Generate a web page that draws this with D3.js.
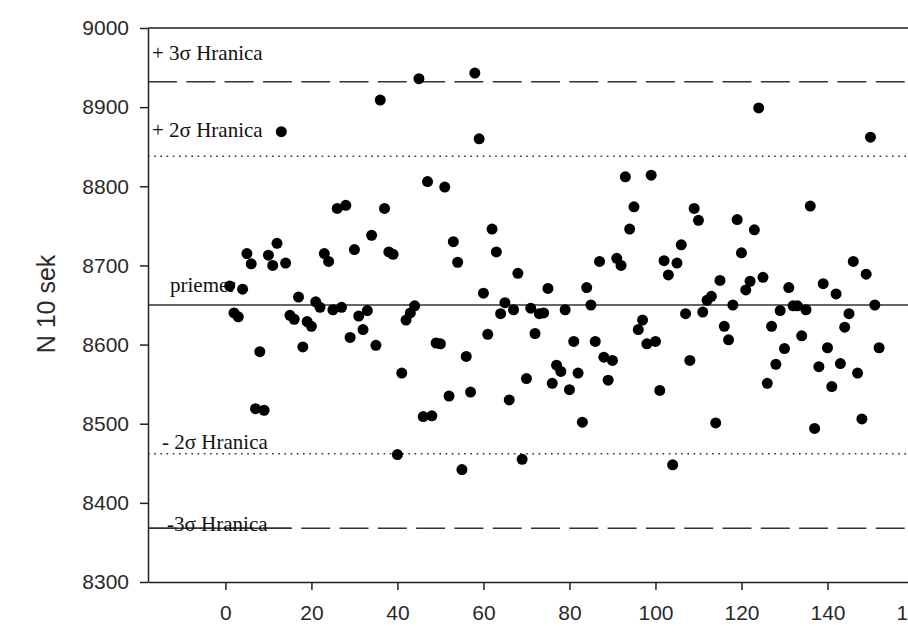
<!DOCTYPE html>
<html>
<head>
<meta charset="utf-8">
<script src="https://cdn.jsdelivr.net/npm/d3@7/dist/d3.min.js"></script>
<style>
  html, body { margin: 0; padding: 0; background: #fff; }
  svg { display: block; overflow: hidden; }
</style>
</head>
<body>
<svg id="chart" width="908" height="633"></svg>
<script>
// ---- data ----
const values = [
  8674, 8640, 8635, 8670, 8715, 8702, 8519, 8591, 8517, 8713,
  8700, 8728, 8869, 8703, 8637, 8632, 8660, 8597, 8629, 8623,
  8654, 8647, 8715, 8705, 8644, 8772, 8647, 8776, 8609, 8720,
  8636, 8619, 8643, 8738, 8599, 8909, 8772, 8717, 8714, 8461,
  8564, 8631, 8640, 8649, 8936, 8509, 8806, 8510, 8602, 8601,
  8799, 8535, 8730, 8704, 8442, 8585, 8540, 8943, 8860, 8665,
  8613, 8746, 8717, 8639, 8653, 8530, 8644, 8690, 8455, 8557,
  8646, 8614, 8639, 8640, 8671, 8551, 8574, 8566, 8644, 8543,
  8604, 8564, 8502, 8672, 8650, 8604, 8705, 8584, 8555, 8580,
  8709, 8700, 8812, 8746, 8774, 8619, 8631, 8601, 8814, 8604,
  8542, 8706, 8688, 8448, 8703, 8726, 8639, 8580, 8772, 8757,
  8641, 8656, 8661, 8501, 8681, 8623, 8606, 8650, 8758, 8716,
  8669, 8680, 8745, 8899, 8685, 8551, 8623, 8575, 8643, 8595,
  8672, 8649, 8649, 8611, 8644, 8775, 8494, 8572, 8677, 8596,
  8547, 8664, 8576, 8622, 8639, 8705, 8564, 8506, 8689, 8862,
  8650, 8596
];
const samples = values.map((v, i) => i + 1);   // sample number 1..n

const xTicks = [0, 20, 40, 60, 80, 100, 120, 140, 160];
const yTicks = [8300, 8400, 8500, 8600, 8700, 8800, 8900, 9000];

const limitNames  = ["+ 3σ Hranica", "+ 2σ Hranica", "priemer", "- 2σ Hranica", "-3σ Hranica"];
const limitValues = [8932, 8838, 8650, 8462, 8368];
const limitStyles = ["dash", "dot", "solid", "dot", "dash"];
const yTitle = "N 10 sek";

// ---- layout ----
const svg = d3.select("#chart");
const pLeft = 148, pTop = 28, pBottom = 582, pRight = 935;
const x = d3.scaleLinear().domain([-18, 165]).range([pLeft, pRight]);
const y = d3.scaleLinear().domain([8300, 9000]).range([pBottom, pTop]);
const ink = "#222";

// limit lines
const dashes = { dash: "29,9.3", dot: "1.6,4.6", solid: null };
const labelPos = [
  { dx: 4,  baseOff: -22 },
  { dx: 4,  baseOff: -19 },
  { dx: 22, baseOff: -13 },
  { dx: 14, baseOff: -5 },
  { dx: 19, baseOff: 3 }
];

const gLines = svg.append("g");
limitValues.forEach((v, i) => {
  gLines.append("line")
    .attr("x1", pLeft).attr("x2", 908)
    .attr("y1", y(v)).attr("y2", y(v))
    .attr("stroke", "#333")
    .attr("stroke-width", limitStyles[i] === "dot" ? 1.6 : 1.5)
    .attr("stroke-dasharray", dashes[limitStyles[i]]);
});
// solid stretch of the -3σ line underneath its label
gLines.append("line")
  .attr("x1", pLeft).attr("x2", pLeft + 143)
  .attr("y1", y(limitValues[4])).attr("y2", y(limitValues[4]))
  .attr("stroke", "#333").attr("stroke-width", 1.5);

// labels
const gLab = svg.append("g")
  .attr("font-family", "'Liberation Serif', 'Times New Roman', serif")
  .attr("font-size", 21)
  .attr("fill", "#111");
limitNames.forEach((t, i) => {
  gLab.append("text")
    .attr("x", pLeft + labelPos[i].dx)
    .attr("y", y(limitValues[i]) + labelPos[i].baseOff)
    .text(t);
});

// frame top line
svg.append("line")
  .attr("x1", pLeft).attr("x2", 908).attr("y1", pTop).attr("y2", pTop)
  .attr("stroke", ink).attr("stroke-width", 1.5);

// axes
const yAxis = svg.append("g")
  .attr("transform", `translate(${pLeft},0)`)
  .call(d3.axisLeft(y).tickValues(yTicks).tickSize(8).tickSizeOuter(0).tickPadding(11).tickFormat(d3.format("d")));
const xAxis = svg.append("g")
  .attr("transform", `translate(0,${pBottom})`)
  .call(d3.axisBottom(x).tickValues(xTicks).tickSize(8).tickSizeOuter(0).tickPadding(15).tickFormat(d3.format("d")));
[yAxis, xAxis].forEach(g => {
  g.select(".domain").attr("stroke", ink).attr("stroke-width", 1.5);
  g.selectAll(".tick line").attr("stroke", ink).attr("stroke-width", 1.5);
  g.selectAll(".tick text")
    .attr("fill", "#2a2a2a")
    .attr("font-family", "'Liberation Sans', Arial, sans-serif")
    .attr("font-size", 21);
});

// axis title
svg.append("text")
  .attr("transform", `translate(55,304) rotate(-90)`)
  .attr("text-anchor", "middle")
  .attr("font-family", "'Liberation Sans', Arial, sans-serif")
  .attr("font-size", 25)
  .attr("fill", "#2a2a2a")
  .text(yTitle);

// points
svg.append("g")
  .selectAll("circle")
  .data(values)
  .join("circle")
  .attr("cx", (d, i) => x(samples[i]))
  .attr("cy", d => y(d))
  .attr("r", 5.5)
  .attr("fill", "#000");
</script>
</body>
</html>
